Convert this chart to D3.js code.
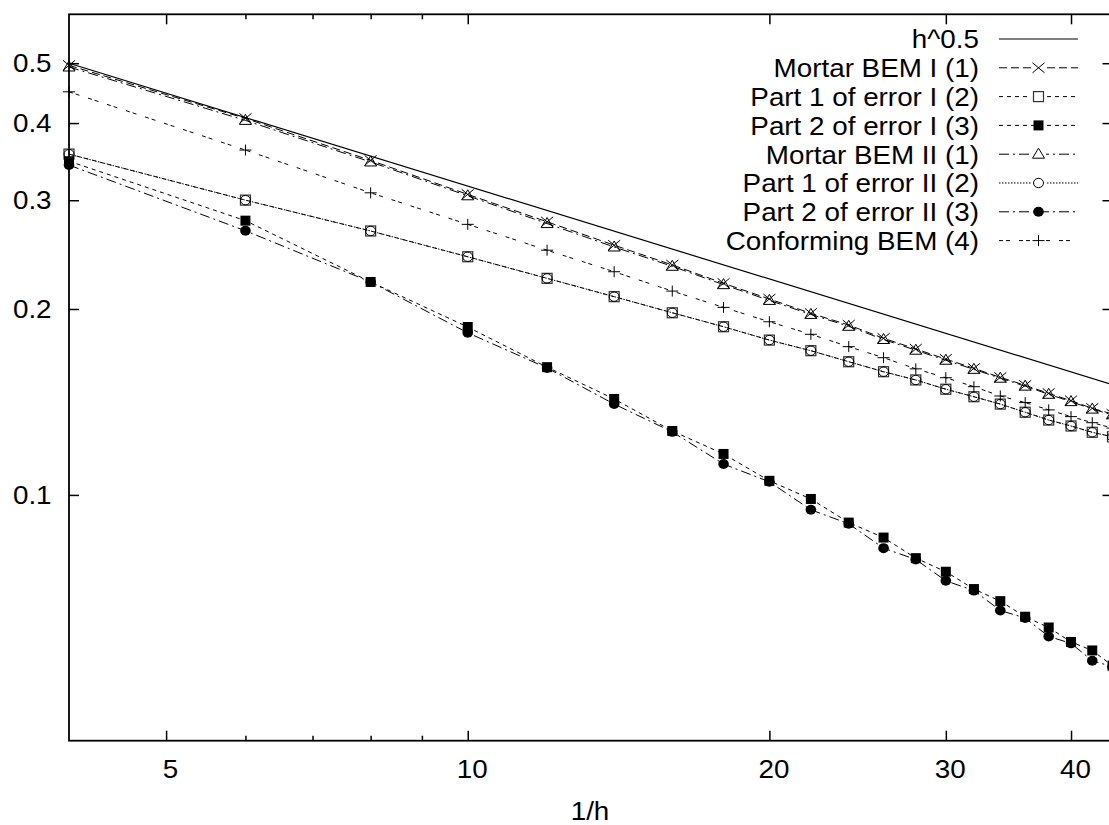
<!DOCTYPE html>
<html>
<head>
<meta charset="utf-8">
<script src="https://cdn.jsdelivr.net/npm/d3@7"></script>
<style>
  body { margin: 0; background: #fff; }
  svg { display: block; }
  text { font-family: "Liberation Sans", Arial, Helvetica, sans-serif; font-size: 26px; fill: #000; }
</style>
</head>
<body>
<div id="chart"></div>
<script>
// 1/h values of the refinements
const invH = [4, 6, 8, 10, 12, 14, 16, 18, 20, 22, 24, 26, 28, 30, 32, 34, 36, 38, 40, 42, 44];

// reference slope h^0.5 (straight in log-log, so its two ends are enough)
const refX = [4, 44];
const refY = [0.5, 0.1508];

const mortarI   = [0.496, 0.407, 0.348, 0.3066, 0.2768, 0.2537, 0.2357, 0.2201, 0.2076, 0.1968, 0.1884, 0.1793, 0.1723, 0.1659, 0.1603, 0.155, 0.1505, 0.146, 0.1421, 0.1381, 0.1352];
const part1I    = [0.3563, 0.3001, 0.2675, 0.243, 0.2242, 0.2094, 0.1972, 0.1872, 0.1781, 0.1712, 0.1643, 0.1583, 0.1535, 0.1483, 0.1442, 0.1403, 0.1361, 0.1322, 0.1293, 0.1263, 0.1242];
const part2I    = [0.347, 0.278, 0.2212, 0.187, 0.161, 0.143, 0.1269, 0.1165, 0.1054, 0.0985, 0.0902, 0.0853, 0.079, 0.0751, 0.0704, 0.0673, 0.0635, 0.061, 0.0578, 0.056, 0.0529];
const mortarII  = [0.493, 0.404, 0.346, 0.305, 0.275, 0.252, 0.2345, 0.219, 0.2065, 0.196, 0.1875, 0.1785, 0.1715, 0.1652, 0.1597, 0.1545, 0.15, 0.1455, 0.1416, 0.1377, 0.1348];
const part1II   = [0.3563, 0.3001, 0.2675, 0.243, 0.2242, 0.2094, 0.1972, 0.1872, 0.1781, 0.1712, 0.1643, 0.1583, 0.1535, 0.1483, 0.1442, 0.1403, 0.1361, 0.1322, 0.1293, 0.1263, 0.1242];
const part2II   = [0.342, 0.2677, 0.2212, 0.183, 0.1605, 0.1403, 0.1265, 0.1122, 0.105, 0.0946, 0.0898, 0.082, 0.0786, 0.0726, 0.07, 0.065, 0.0632, 0.059, 0.0575, 0.0539, 0.0527];
const conformingBEM = [0.4494, 0.3617, 0.3084, 0.2742, 0.249, 0.2298, 0.2138, 0.2012, 0.1907, 0.182, 0.1738, 0.1668, 0.16, 0.1548, 0.1497, 0.1446, 0.1411, 0.1373, 0.1339, 0.1309, 0.1283];

const xMajorTicks = [5, 10, 20, 30, 40];
const xMinorTicks = [6, 7, 8, 9];
const yTicks = [0.1, 0.2, 0.3, 0.4, 0.5];

const series = [
    { name: "Mortar BEM I (1)",     values: mortarI,       dash: "8,4",        marker: "times" },
    { name: "Part 1 of error I (2)",  values: part1I,      dash: "4,4",        marker: "square" },
    { name: "Part 2 of error I (3)",  values: part2I,      dash: "4,4",        marker: "squareFilled" },
    { name: "Mortar BEM II (1)",    values: mortarII,      dash: "10,4,2,4",   marker: "triangle" },
    { name: "Part 1 of error II (2)", values: part1II,     dash: "1.5,1.5",    marker: "circle" },
    { name: "Part 2 of error II (3)", values: part2II,     dash: "10,4,2,4",   marker: "circleFilled" },
    { name: "Conforming BEM (4)",   values: conformingBEM, dash: "4,3,4,9",    marker: "plus" }
];

var width = 1109, height = 825;
var margin = { top: 14.3, left: 69, right: -3.5, bottom: 84.3 };
var plotW = width - margin.left - margin.right,
    plotH = height - margin.top - margin.bottom;
var sx = 1.07; // text in the original is slightly wide

var svg = d3.select("#chart").append("svg")
    .attr("width", width)
    .attr("height", height);

var x = d3.scaleLog().domain([4, 44]).range([0, plotW]);
var y = d3.scaleLog().domain([0.04, 0.6]).range([plotH, 0]);

var g = svg.append("g")
    .attr("transform", "translate(" + [margin.left, margin.top] + ")");

// axes (ticks point inward, mirrored on top and right)
function styleAxis(sel) {
    sel.select(".domain").remove();
    sel.selectAll(".tick line").attr("stroke", "#000").attr("stroke-width", 1.5);
}

g.append("g").attr("transform", "translate(0," + plotH + ")")
    .call(d3.axisBottom(x).tickValues(xMajorTicks).tickSize(-10).tickPadding(19).tickFormat(d3.format("d")))
    .call(styleAxis)
    .call(s => s.selectAll(".tick text").attr("transform", "translate(4,0) scale(" + sx + ",1)"));
g.append("g").attr("transform", "translate(0," + plotH + ")")
    .call(d3.axisBottom(x).tickValues(xMinorTicks).tickSize(-5).tickFormat(""))
    .call(styleAxis);
g.append("g")
    .call(d3.axisTop(x).tickValues(xMajorTicks).tickSize(-10).tickFormat(""))
    .call(styleAxis);
g.append("g")
    .call(d3.axisTop(x).tickValues(xMinorTicks).tickSize(-5).tickFormat(""))
    .call(styleAxis);
g.append("g")
    .call(d3.axisLeft(y).tickValues(yTicks).tickSize(-10).tickPadding(16.3).tickFormat(d3.format(".1f")))
    .call(styleAxis)
    .call(s => s.selectAll(".tick text").attr("transform", "scale(" + sx + ",1)"));
g.append("g").attr("transform", "translate(" + plotW + ",0)")
    .call(d3.axisRight(y).tickValues(yTicks).tickSize(-10).tickFormat(""))
    .call(styleAxis);

svg.selectAll(".tick text")
    .attr("font-family", null).attr("font-size", null).attr("fill", "#000");

g.append("rect")
    .attr("width", plotW).attr("height", plotH)
    .attr("fill", "none").attr("stroke", "#000").attr("stroke-width", 1.8);

// x label
svg.append("text")
    .attr("text-anchor", "middle")
    .attr("transform", "translate(590,820) scale(" + sx + ",1)")
    .text("1/h");

// point symbols
function drawMarker(sel, type, px, py) {
    var m = sel.append("g").attr("transform", "translate(" + [px, py] + ")");
    if (type === "times") {
        m.append("path").attr("d", "M-6,-5L6,5M-6,5L6,-5").attr("stroke", "#000").attr("stroke-width", 1).attr("fill", "none");
    } else if (type === "plus") {
        m.append("path").attr("d", "M-6,0L6,0M0,-5.5L0,5.5").attr("stroke", "#000").attr("stroke-width", 1).attr("fill", "none");
    } else if (type === "square") {
        m.append("rect").attr("x", -5).attr("y", -5).attr("width", 10).attr("height", 10)
            .attr("fill", "none").attr("stroke", "#333").attr("stroke-width", 1.2);
    } else if (type === "squareFilled") {
        m.append("rect").attr("x", -5).attr("y", -5).attr("width", 10).attr("height", 10).attr("fill", "#000");
    } else if (type === "triangle") {
        m.append("path").attr("d", "M0,-6L6,4L-6,4Z").attr("fill", "none").attr("stroke", "#000").attr("stroke-width", 1);
    } else if (type === "circle") {
        m.append("ellipse").attr("rx", 5).attr("ry", 4.7).attr("fill", "none").attr("stroke", "#000").attr("stroke-width", 1);
    } else if (type === "circleFilled") {
        m.append("ellipse").attr("rx", 5.3).attr("ry", 5).attr("fill", "#000");
    }
}

var line = d3.line()
    .x(d => x(d[0]))
    .y(d => y(d[1]));

// reference line
g.append("path")
    .datum(d3.zip(refX, refY))
    .attr("d", line)
    .attr("fill", "none").attr("stroke", "#000").attr("stroke-width", 1.2);

series.forEach(function (s) {
    var pts = d3.zip(invH, s.values);
    g.append("path")
        .datum(pts)
        .attr("d", line)
        .attr("fill", "none")
        .attr("stroke", "#000")
        .attr("stroke-width", 1)
        .attr("stroke-dasharray", s.dash);
    var mg = g.append("g");
    pts.forEach(p => drawMarker(mg, s.marker, x(p[0]), y(p[1])));
});

// legend
var legend = svg.append("g").attr("class", "legend");
var legendItems = [{ name: "h^0.5", dash: null, marker: null }].concat(series);
legendItems.forEach(function (s, i) {
    var ly = 39 + i * 28.8;
    legend.append("text")
        .attr("text-anchor", "end")
        .attr("transform", "translate(979," + (ly + 9.3) + ") scale(" + sx + ",1)")
        .text(s.name);
    legend.append("line")
        .attr("x1", 999).attr("x2", 1078)
        .attr("y1", ly).attr("y2", ly)
        .attr("stroke", "#000")
        .attr("stroke-width", s.dash ? 1 : 1.2)
        .attr("stroke-dasharray", s.dash);
    if (s.marker) {
        if (s.marker !== "squareFilled" && s.marker !== "circleFilled") {
            legend.append("rect").attr("x", 1031).attr("y", ly - 6).attr("width", 15).attr("height", 12).attr("fill", "#fff");
        }
        drawMarker(legend, s.marker, 1038.5, ly);
    }
});
</script>
</body>
</html>
